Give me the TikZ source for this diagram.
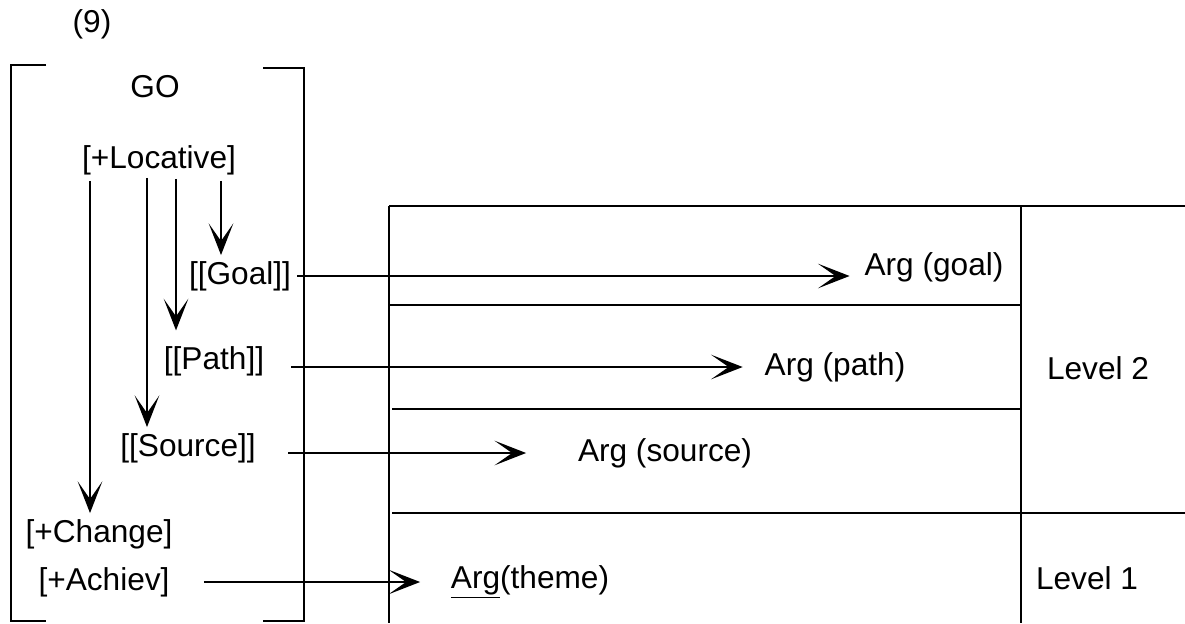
\documentclass[tikz,border=0pt]{standalone}
\usepackage{fontspec}
\setmainfont{Liberation Sans}
\usepackage{tikz}
\usetikzlibrary{arrows.meta,positioning,calc}
\tikzstyle{arrow} = [line width=1.5pt,-{Stealth[length=18pt,width=14pt,inset=10pt,line width=1pt]}]
\tikzstyle{rule} = [line width=1.6pt]
\tikzstyle{feat} = [font=\fontsize{18}{21}\selectfont]
\tikzstyle{arg} = [font=\fontsize{18}{21}\selectfont]

\begin{document}
\begin{tikzpicture}[x=0.02cm,y=-0.02cm]
\useasboundingbox (0,0) rectangle (1185,623);

% example number and bracket
\node[feat] (num) at (92,24) {(9)};
\draw[rule] (46,65) -- (11,65) -- (11,621) -- (46,621);
\draw[rule] (263,68) -- (304,68) -- (304,621) -- (263,621);

% features
\node[feat] (go) at (155,87) {GO};
\node[feat] (loc) at (159,160) {[+Locative]};
\node[feat] (goal) at (240,276) {[[Goal]]};
\node[feat] (pth) at (214,361) {[[Path]]};
\node[feat] (src) at (188,448) {[[Source]]};
\node[feat] (change) at (99,534) {[+Change]};
\node[feat] (achiev) at (104,582) {[+Achiev]};

% downward arrows
\coordinate (t1) at ($(loc.south)+(-69,0)$);
\coordinate (t2) at ($(loc.south)+(-12,-3)$);
\coordinate (t3) at ($(loc.south)+(17,-2)$);
\coordinate (t4) at ($(loc.south)+(62,0)$);
\draw[arrow] (t1) -- (t1 |- change.north);
\draw[arrow] (t2) -- (t2 |- src.north);
\draw[arrow, shorten >=5.5pt] (t3) -- (t3 |- pth.north);
\draw[arrow] (t4) -- (t4 |- goal.north);

% table
\draw[rule] (389,206) -- (1185,206);
\draw[rule] (389,206) -- (389,623);
\draw[rule] (1021,206) -- (1021,623);
\draw[rule] (389,305) -- (1021,305);
\draw[rule] (392,409) -- (1021,409);
\draw[rule] (392,513) -- (1185,513);

% arguments
\node[arg] (argGoal) at (934,267) {Arg (goal)};
\node[arg] (argPath) at (835,367) {Arg (path)};
\node[arg] (argSource) at (665,453) {Arg (source)};
\node[arg] (argTheme) at (530,582) {\underline{Arg}(theme)};
\node[arg] (lvlTwo) at (1098,368) {Level 2};
\node[arg] (lvlOne) at (1087,578) {Level 1};

% linking arrows
\draw[arrow, shorten >=5pt] (goal.east) -- (goal.east -| argGoal.west);
\draw[arrow, shorten <=12pt, shorten >=9pt] (pth.east |- argPath.west) -- (argPath.west);
\draw[arrow, shorten <=15pt, shorten >=26pt] (src.east |- argSource.west) -- (argSource.west);
\draw[arrow, shorten <=16pt, shorten >=14pt] (achiev.east) -- (achiev.east -| argTheme.west);
\end{tikzpicture}
\end{document}
